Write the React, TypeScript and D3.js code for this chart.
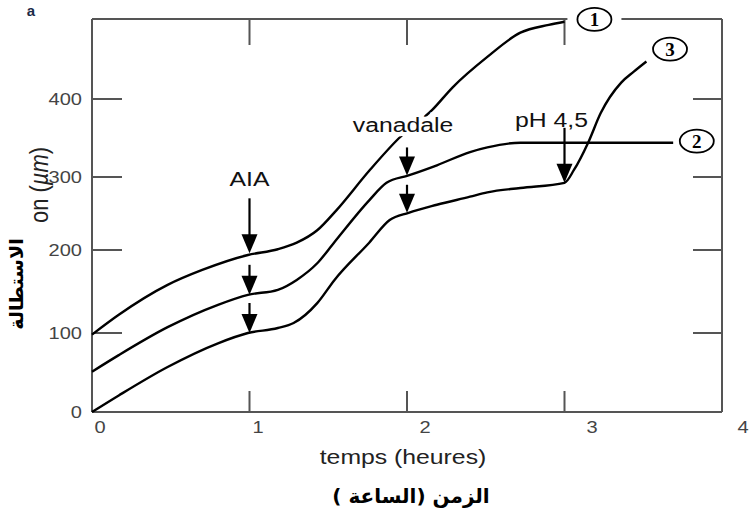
import React, { useRef, useEffect } from 'react';
import * as d3 from 'd3';

// axes
const timeTicks = [0, 1, 2, 3, 4];
const lengthTicks = [100, 200, 300, 400];
const lengthLabels = [0, 100, 200, 300, 400];

// courbe 1 : témoin (temps en heures, élongation en µm)
const curve1: [number, number][] = [
  [0, 98], [0.17, 122], [0.48, 158], [0.7, 176], [0.99, 194], [1.18, 201],
  [1.3, 210], [1.43, 227], [1.55, 254], [1.76, 308], [1.95, 350], [2.16, 386],
  [2.29, 415], [2.51, 454], [2.72, 485], [2.9, 495], [3.0, 499],
];

// courbe 2 : AIA puis vanadate
const curve2: [number, number][] = [
  [0, 51], [0.17, 72], [0.48, 107], [0.8, 134], [0.99, 146], [1.18, 152],
  [1.3, 164], [1.43, 184], [1.54, 211], [1.76, 268], [1.87, 292], [2.01, 302],
  [2.19, 315], [2.4, 332], [2.51, 338], [2.72, 344], [2.94, 344], [3.69, 344],
];

// courbe 3 : AIA, vanadate puis pH 4,5
const curve3: [number, number][] = [
  [0, 0], [0.17, 21], [0.48, 57], [0.8, 87], [0.99, 100], [1.18, 106],
  [1.28, 112], [1.43, 136], [1.54, 164], [1.76, 210], [1.89, 241], [2.01, 251],
  [2.19, 262], [2.4, 273], [2.51, 279], [2.72, 285], [3.0, 292], [3.06, 309],
  [3.15, 344], [3.23, 382], [3.36, 421], [3.44, 435], [3.52, 448],
];

const seriesNames = ['1', '2', '3'];

// traitements : moment d'application et point visé sur les courbes
const treatments = ['AIA', 'vanadale', 'pH 4,5'];
const treatmentTimes = [1, 2, 3];
const aiaTargets = [196, 146, 100];
const vanadaleTargets = [302, 251];
const phTargets = [292];

const SANS = 'Liberation Sans, Arial, Helvetica, sans-serif';
const SX = 1.18; // the scan is stretched horizontally

const App: React.FC = () => {
  const svgRef = useRef<SVGSVGElement | null>(null);

  useEffect(() => {
    const svg = d3.select(svgRef.current);
    svg.selectAll('*').remove();

    const W = 752;
    const H = 521;
    const left = 92, right = 722, top = 19, bottom = 412;

    const x = d3.scaleLinear().domain([0, 4]).range([left, right]);
    // scanned axis is not perfectly even
    const y = d3.scaleLinear().domain([0, 100, 200, 300, 400]).range([bottom, 333, 250, 177, 99]);
    // tick numbers sit off their ticks in the original
    const xLabel = d3.scaleLinear().domain(timeTicks).range([100, 258, 425, 592, 743]);

    svg.append('rect').attr('width', W).attr('height', H).attr('fill', '#fff');

    const text = (px: number, py: number, str: string, size: number, anchor = 'middle') =>
      svg
        .append('text')
        .attr('transform', `translate(${px},${py}) scale(${SX},1)`)
        .attr('text-anchor', anchor)
        .attr('font-family', SANS)
        .attr('font-size', size)
        .text(str);

    // frame
    const frame = svg.append('g').attr('stroke', '#555').attr('stroke-width', 2).attr('fill', 'none');
    const lab1X = x(3.19), lab1Rx = 17;
    const segs = [
      [left, top, left, bottom],
      [left, bottom, right, bottom],
      [right, top, right, bottom],
      [left, top, lab1X - lab1Rx - 10, top],
      [lab1X + lab1Rx + 10, top, right, top],
    ];
    segs.forEach(s =>
      frame.append('line').attr('x1', s[0]).attr('y1', s[1]).attr('x2', s[2]).attr('y2', s[3])
    );
    timeTicks.slice(1, 4).forEach(t => {
      frame.append('line').attr('x1', x(t)).attr('x2', x(t)).attr('y1', bottom).attr('y2', bottom - 21);
      frame.append('line').attr('x1', x(t)).attr('x2', x(t)).attr('y1', top).attr('y2', top + 26);
    });
    lengthTicks.forEach(v => {
      frame.append('line').attr('x1', left).attr('x2', left + 30).attr('y1', y(v)).attr('y2', y(v));
      frame.append('line').attr('x1', right).attr('x2', right - 29).attr('y1', y(v)).attr('y2', y(v));
    });

    // tick labels
    lengthLabels.forEach(v => text(82, y(v) + 6, String(v), 17, 'end').attr('fill', '#444'));
    timeTicks.forEach(t => text(xLabel(t), bottom + 21, String(t), 17).attr('fill', '#444'));

    // curves
    const line = d3
      .line<[number, number]>()
      .x(d => x(d[0]))
      .y(d => y(d[1]))
      .curve(d3.curveMonotoneX);
    [curve1, curve2, curve3].forEach(c =>
      svg
        .append('path')
        .attr('d', line(c) as string)
        .attr('fill', 'none')
        .attr('stroke', '#000')
        .attr('stroke-width', 2.4)
    );

    // arrows
    const arrow = (t: number, v: number, len: number) => {
      const ax = x(t);
      const tip = y(v);
      const hh = 19, hw = 8;
      svg
        .append('line')
        .attr('x1', ax).attr('x2', ax)
        .attr('y1', tip - len).attr('y2', tip - hh + 2)
        .attr('stroke', '#000').attr('stroke-width', 2.2);
      svg
        .append('path')
        .attr('d', `M${ax - hw},${tip - hh}L${ax + hw},${tip - hh}L${ax},${tip}Z`)
        .attr('fill', '#000');
    };
    aiaTargets.forEach((v, i) => arrow(treatmentTimes[0], v, i === 0 ? 55 : 30));
    vanadaleTargets.forEach(v => arrow(treatmentTimes[1], v, 28));
    phTargets.forEach(v => arrow(treatmentTimes[2], v, 55));

    text(x(treatmentTimes[0]), 186, treatments[0], 21).attr('fill', '#111');
    text(x(treatmentTimes[1]) - 4, 132, treatments[1], 21)
      .attr('fill', '#111')
      .attr('stroke', '#fff')
      .attr('stroke-width', 9)
      .attr('paint-order', 'stroke');
    text(x(treatmentTimes[2]) - 13, 127, treatments[2], 21).attr('fill', '#111');

    // circled series labels
    const labelPos: [number, number][] = [[3.19, 502], [3.84, 346], [3.67, 464]];
    seriesNames.forEach((n, i) => {
      const cx = x(labelPos[i][0]);
      const cy = y(labelPos[i][1]);
      svg
        .append('ellipse')
        .attr('cx', cx).attr('cy', cy)
        .attr('rx', 17).attr('ry', 11.5)
        .attr('fill', '#fff').attr('stroke', '#000').attr('stroke-width', 1.8);
      svg
        .append('text')
        .attr('x', cx).attr('y', cy + 6.5)
        .attr('text-anchor', 'middle')
        .attr('font-family', 'Liberation Serif, Times New Roman, serif')
        .attr('font-weight', 'bold')
        .attr('font-size', 19)
        .attr('fill', '#000')
        .text(n);
    });

    // titles
    svg
      .append('text')
      .attr('x', 31).attr('y', 16)
      .attr('text-anchor', 'middle')
      .attr('font-family', SANS)
      .attr('font-weight', 'bold')
      .attr('font-size', 15)
      .attr('fill', '#1c2a48')
      .text('a');

    text(403, 464, 'temps (heures)', 21).attr('fill', '#222');

    svg
      .append('text')
      .attr('x', 411).attr('y', 503)
      .attr('text-anchor', 'middle')
      .attr('direction', 'rtl')
      .attr('font-family', 'DejaVu Sans, sans-serif')
      .attr('font-weight', 'bold')
      .attr('font-size', 20)
      .attr('fill', '#000')
      .text('الزمن (الساعة )');

    const yl = svg
      .append('text')
      .attr('transform', `translate(38,185) scale(${SX},1) rotate(-90)`)
      .attr('text-anchor', 'middle')
      .attr('dominant-baseline', 'central')
      .attr('font-family', SANS)
      .attr('font-size', 22)
      .attr('fill', '#222');
    yl.append('tspan').text('on (');
    yl.append('tspan').attr('font-style', 'italic').text('µm');
    yl.append('tspan').text(')');

    svg
      .append('text')
      .attr('transform', 'translate(16,284) rotate(-90)')
      .attr('text-anchor', 'middle')
      .attr('dominant-baseline', 'central')
      .attr('direction', 'rtl')
      .attr('font-family', 'DejaVu Sans, sans-serif')
      .attr('font-weight', 'bold')
      .attr('font-size', 19)
      .attr('fill', '#000')
      .text('الاستطالة');
  }, []);

  return (
    <svg
      ref={svgRef}
      width="752"
      height="521"
      style={{ position: 'absolute', left: 0, top: 0 }}
    />
  );
};

export default App;
